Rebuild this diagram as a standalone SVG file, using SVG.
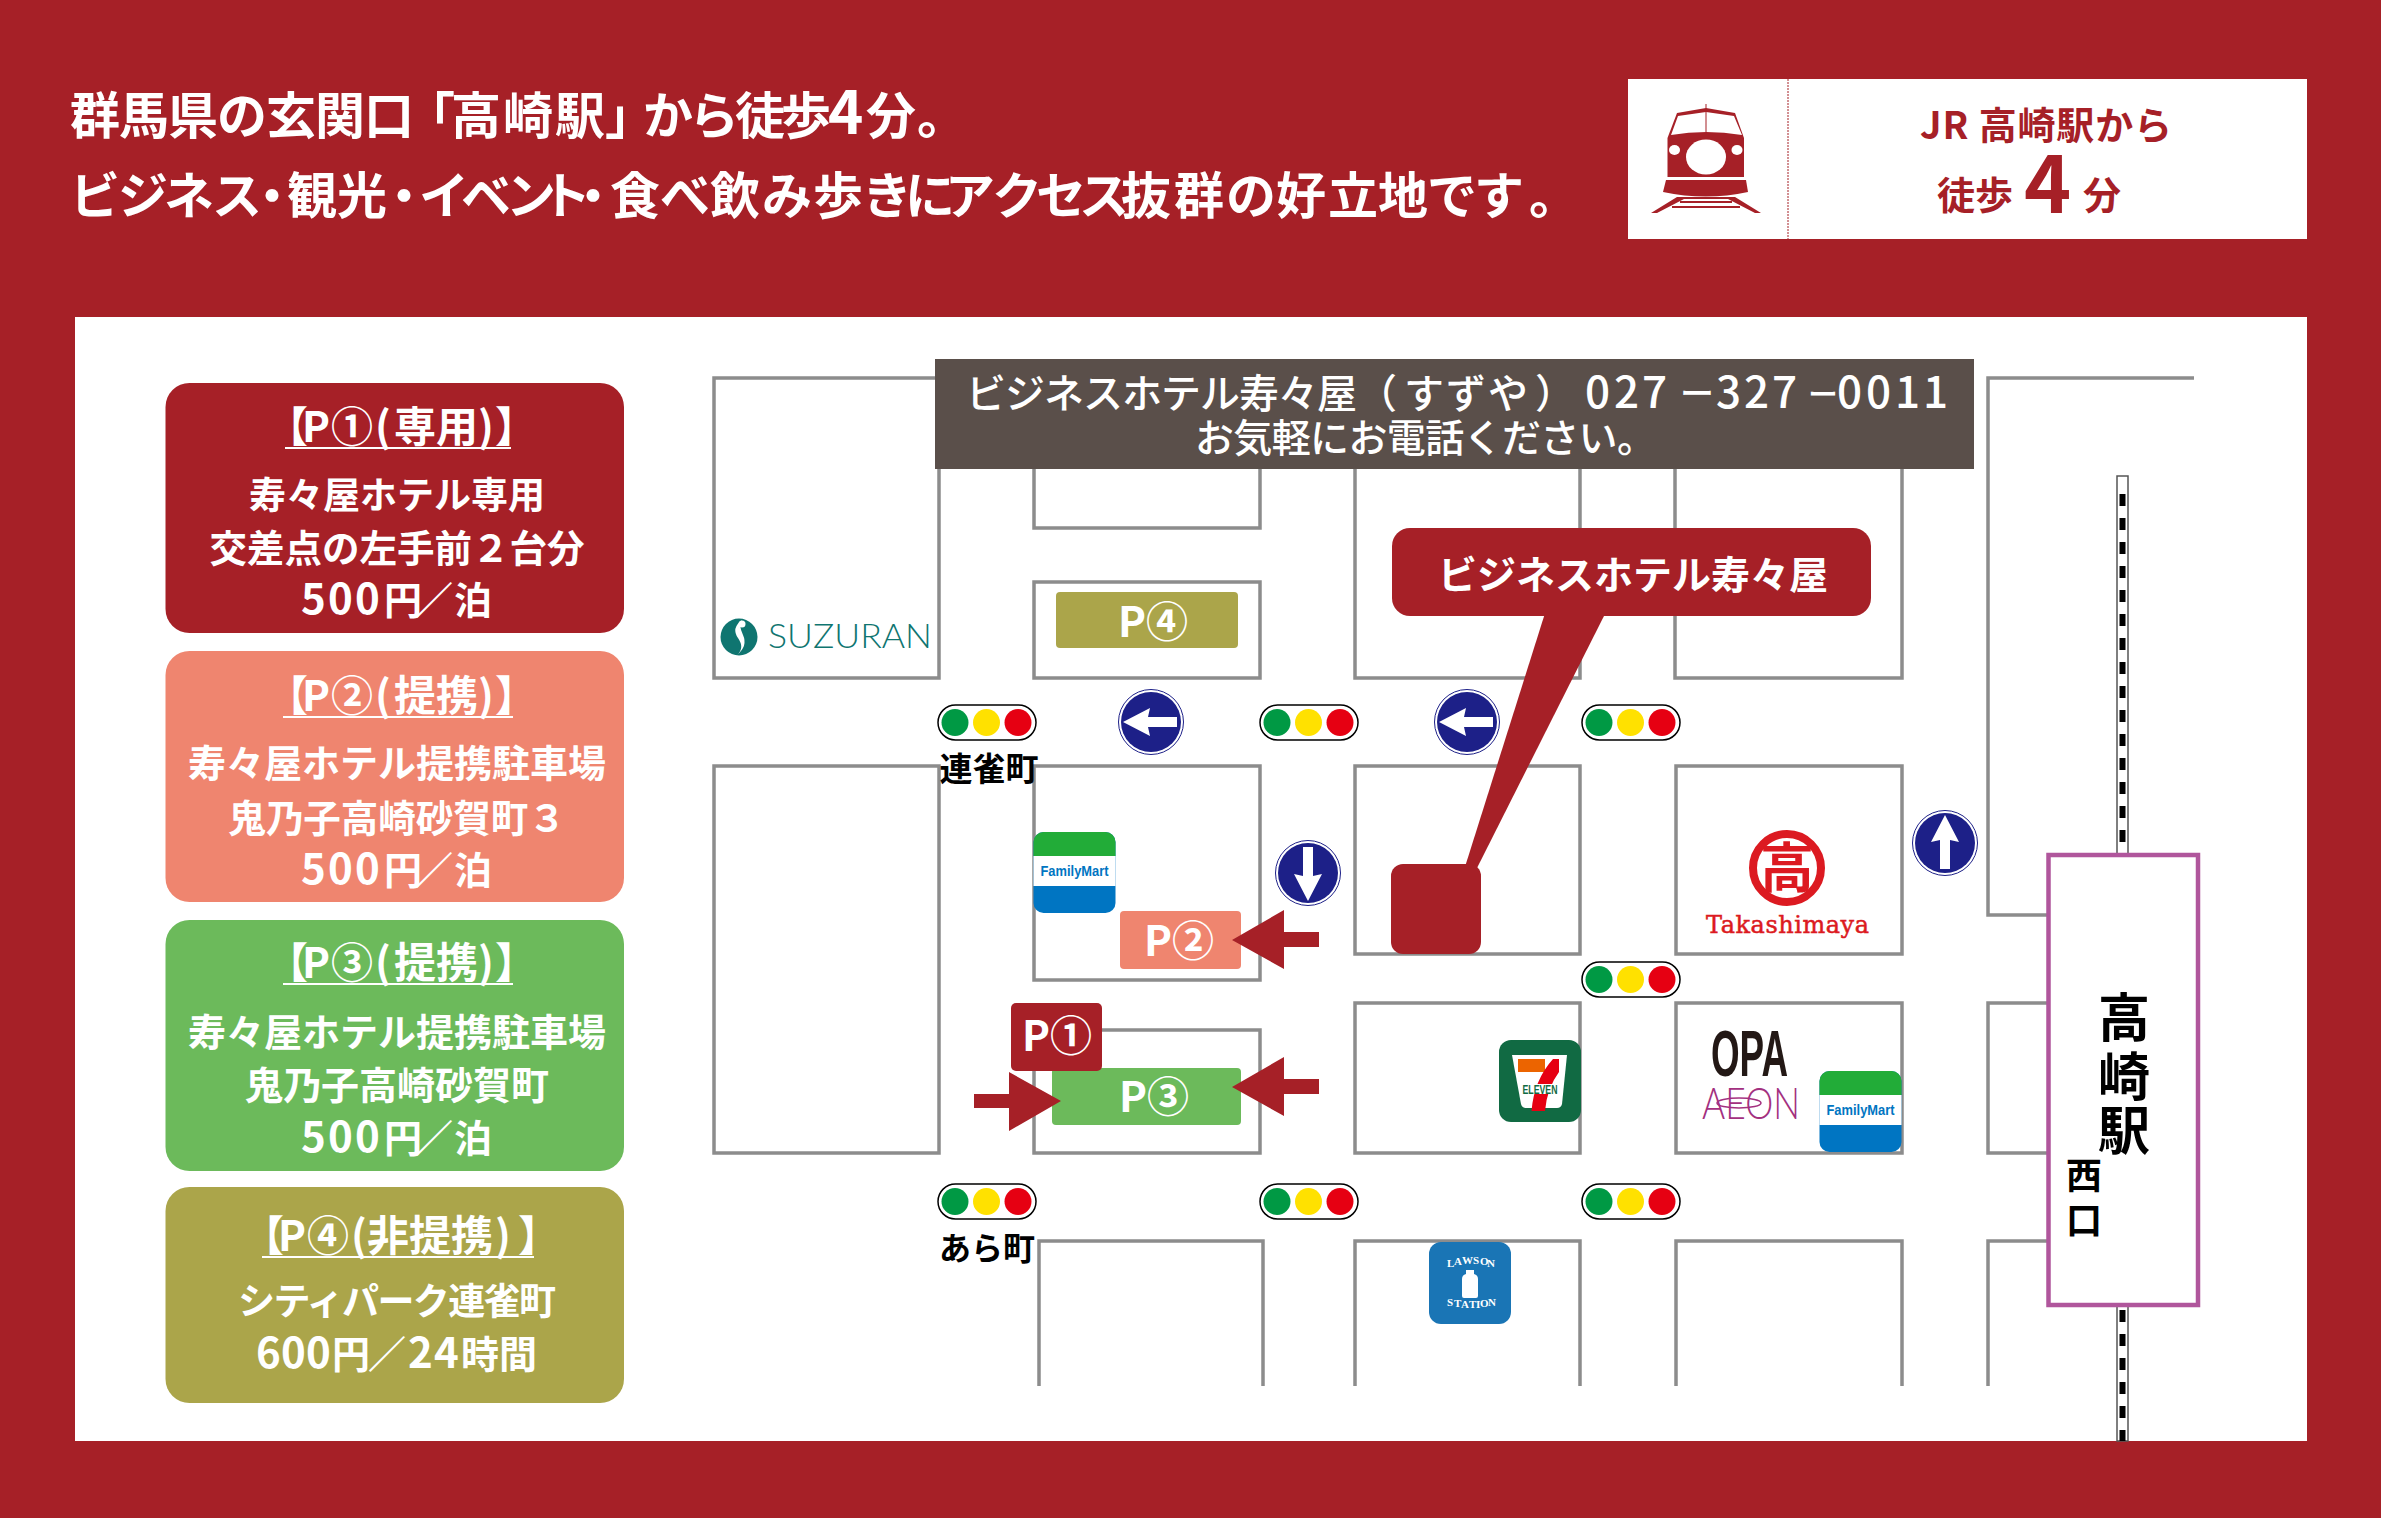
<svg xmlns="http://www.w3.org/2000/svg" width="2381" height="1518" viewBox="0 0 2381 1518">
<style>
text{font-family:"Noto Sans CJK JP","Noto Sans",sans-serif}
.st{fill:none;stroke:#8c8c8c;stroke-width:3.500}
.w{fill:#fff;font-weight:700}
.m{fill:#fff;font-weight:500}
.c{text-anchor:middle}
.leg{font-size:38px}
.ttl{font-size:42px}
.ul{stroke:#fff;stroke-width:2}
.red{fill:#a62027}
.pt{font-size:42px;fill:#fff;text-anchor:middle;font-weight:700}
.blk{fill:#000;font-weight:700}
.sig{fill:#fff;stroke:#000;stroke-width:1.500}
.fm{font-family:"Liberation Sans",sans-serif;font-weight:700;fill:#0075c2;font-size:15px;text-anchor:middle}
.dig{font-size:42px}
.law{font-family:"Liberation Serif",serif;font-size:11px;font-weight:700;fill:#fff}
</style>
<defs>
<g id="lamp"><rect x="1" y="1" width="98" height="35" rx="17.500" class="sig"/><ellipse cx="18" cy="18.500" rx="13.500" ry="13.500" fill="#009944"/><ellipse cx="49.500" cy="18.500" rx="13.500" ry="13.500" fill="#ffe100"/><ellipse cx="81" cy="18.500" rx="13.500" ry="13.500" fill="#e60012"/></g>
<g id="sign"><circle r="32.500" fill="#fff" stroke="#1d2088" stroke-width="1"/><circle r="30" fill="#1d2088"/><path d="M-28 0L-1-14-3-5H26V5H-3L-1 14Z" fill="#fff"/></g>
<g id="fmlogo"><rect width="82" height="81" rx="10" fill="#0075c2"/><path d="M0 24V10A10 10 0 0 1 10 0H72A10 10 0 0 1 82 10V24Z" fill="#22ac38"/><rect y="24" width="82" height="30" fill="#fff"/><text x="41" y="44" class="fm" textLength="68" lengthAdjust="spacingAndGlyphs">FamilyMart</text></g>
</defs>
<rect width="2381" height="1518" class="red"/>
<rect x="75" y="317" width="2232" height="1124" fill="#fff"/>
<g id="header">
<text y="134" class="w" font-size="50" x="70 119 168 217 266 315 364 405 451 503 555 605 643 689 735 781 828 866 917">群馬県の玄関口「高崎駅」から徒歩<tspan font-size="60">4</tspan>分。</text>
<text y="214" class="w" font-size="50" x="70 118 164 212 247 287 337 379 419 461 506 541 568 610 660 710 762 813 862 905 945 992 1036 1079 1121 1174 1226 1276 1328 1378 1427 1474 1529">ビジネス・観光・イベント・食べ飲み歩きにアクセス抜群の好立地です。</text>
</g>
<g id="walk-box">
<rect x="1628" y="79" width="679" height="160" fill="#fff"/>
<line x1="1788" y1="79" x2="1788" y2="239" stroke="#a62027" stroke-width="1" stroke-dasharray="2 1"/>
<g id="train" class="red">
<path d="M1667.500 177V138L1677 113 1706 108 1735 113 1744 138V177Z"/>
<path d="M1671 135L1678 116 1706 112 1734 116 1742 135Q1706 129 1671 135Z" fill="#fff"/>
<path d="M1705.500 104H1706.500V132H1705.500Z"/>
<ellipse cx="1706" cy="157" rx="20" ry="17.500" fill="#fff"/>
<ellipse cx="1674.500" cy="150" rx="5.500" ry="5" fill="#fff"/>
<ellipse cx="1737" cy="150" rx="5.500" ry="5" fill="#fff"/>
<path d="M1666 180H1746L1748 192Q1706 201 1663 192Z"/>
<path d="M1677 197H1735L1761 213H1755L1728 199H1684L1657 213H1651ZM1680 201H1732V203H1680ZM1672 206H1740V208H1672Z"/>
</g>
<text x="2046" y="139" class="c red" font-size="38" font-weight="700" textLength="252">JR 高崎駅から</text>
<text x="1937" y="209" class="red" font-size="38" font-weight="700">徒歩</text>
<text x="2024" y="213" class="red" font-size="80" font-weight="700">4</text>
<text x="2083" y="209" class="red" font-size="38" font-weight="700">分</text>
</g>
<g id="streets">
<path class="st" d="M935 378H714V678H939V469"/>
<path class="st" d="M1034 469V528H1260V469"/>
<rect class="st" x="1034" y="582" width="226" height="96"/>
<path class="st" d="M1355 469V678H1580V469"/>
<path class="st" d="M1675 469V678H1902V469"/>
<path class="st" d="M2194 378H1988V915H2047"/>
<rect class="st" x="714" y="766" width="225" height="387"/>
<rect class="st" x="1034" y="766" width="226" height="214"/>
<rect class="st" x="1355" y="766" width="225" height="188"/>
<rect class="st" x="1676" y="766" width="226" height="188"/>
<rect class="st" x="1034" y="1030" width="226" height="123"/>
<rect class="st" x="1355" y="1003" width="225" height="150"/>
<rect class="st" x="1676" y="1003" width="226" height="150"/>
<path class="st" d="M2047 1003H1988V1153H2047"/>
<path class="st" d="M1039 1386V1241H1263V1386"/>
<path class="st" d="M1355 1386V1241H1580V1386"/>
<path class="st" d="M1676 1386V1241H1902V1386"/>
<path class="st" d="M1988 1386V1241H2047"/>
</g>
<g id="railway">
<rect x="2117" y="476" width="11" height="965" fill="#fff" stroke="#555" stroke-width="1.500"/>
<line x1="2122.500" y1="482" x2="2122.500" y2="1441" stroke="#000" stroke-width="6" stroke-dasharray="12 12" stroke-dashoffset="12"/>
</g>
<g id="phone-banner">
<rect x="935" y="359" width="1039" height="110" fill="#5a4f4a"/>
<text y="408" class="m" font-size="40" x="966 1005 1044 1083 1122 1161 1200 1239 1278 1317 1357 1404 1446 1488 1535 1585 1614 1642 1680 1716 1744 1772 1808 1837 1866 1895 1923">ビジネスホテル寿々屋（すずや）<tspan font-size="44">027</tspan><tspan font-size="34" dy="-2">ー</tspan><tspan font-size="44" dy="2">327</tspan><tspan font-size="30" dy="-3">ー</tspan><tspan font-size="44" dy="3">0011</tspan></text>
<text x="1195" y="452" class="m" font-size="39" textLength="461">お気軽にお電話ください。</text>
</g>
<g id="legend-p1">
<rect x="165.500" y="383" width="458.500" height="250" rx="24" class="red"/>
<text y="442" class="w ttl" x="266 302 331 375 394 436 478 495">【P①(専用)】</text>
<line x1="285" y1="448" x2="511" y2="448" class="ul"/>
<text x="397" y="509" class="w c" font-size="37">寿々屋ホテル専用</text>
<text x="397" y="562" class="w c" font-size="37.500">交差点の左手前２台分</text>
<text y="614" class="w leg" x="301 328 355 384 415 454"><tspan class="dig">500</tspan>円／泊</text>
</g>
<g id="legend-p2">
<rect x="165.500" y="651" width="458.500" height="251" rx="24" fill="#ef856f"/>
<text y="711" class="w ttl" x="266 302 331 375 394 436 478 495">【P②(提携)】</text>
<line x1="283" y1="717" x2="513" y2="717" class="ul"/>
<text x="397" y="777" class="w c leg">寿々屋ホテル提携駐車場</text>
<text x="397" y="832" class="w c" font-size="37.500">鬼乃子高崎砂賀町３</text>
<text y="884" class="w leg" x="301 328 355 384 415 454"><tspan class="dig">500</tspan>円／泊</text>
</g>
<g id="legend-p3">
<rect x="165.500" y="920" width="458.500" height="251" rx="24" fill="#6cba5b"/>
<text y="978" class="w ttl" x="266 302 331 375 394 436 478 495">【P③(提携)】</text>
<line x1="283" y1="984" x2="513" y2="984" class="ul"/>
<text x="397" y="1046" class="w c leg">寿々屋ホテル提携駐車場</text>
<text x="397" y="1099" class="w c leg">鬼乃子高崎砂賀町</text>
<text y="1152" class="w leg" x="301 328 355 384 415 454"><tspan class="dig">500</tspan>円／泊</text>
</g>
<g id="legend-p4">
<rect x="165.500" y="1187" width="458.500" height="216" rx="24" fill="#aba54a"/>
<text y="1251" class="w ttl" x="242 278 307 351 367 409 451 495 518">【P④(非提携)】</text>
<line x1="262" y1="1257" x2="534" y2="1257" class="ul"/>
<text x="397" y="1315" class="w c" font-size="37" textLength="318">シティパーク連雀町</text>
<text y="1368" class="w leg" x="256 281 306 332 368 408 434 461 499"><tspan class="dig">600</tspan>円／<tspan class="dig">24</tspan>時間</text>
</g>
<g id="hotel-callout">
<path class="red" d="M1546 610L1464 870H1476L1607 610Z"/>
<rect x="1392" y="528" width="479" height="88" rx="18" class="red"/>
<rect x="1391" y="864" width="90" height="90" rx="12" class="red"/>
<text x="1633" y="589" class="w c" font-size="39">ビジネスホテル寿々屋</text>
</g>
<g id="lights">
<use href="#lamp" x="937" y="704"/><use href="#lamp" x="1259" y="704"/><use href="#lamp" x="1581" y="704"/>
<use href="#lamp" x="1581" y="961"/>
<use href="#lamp" x="937" y="1183"/><use href="#lamp" x="1259" y="1183"/><use href="#lamp" x="1581" y="1183"/>
</g>
<g id="signs">
<use href="#sign" transform="translate(1151 722)"/>
<use href="#sign" transform="translate(1467 722)"/>
<use href="#sign" transform="translate(1308 873) rotate(-90)"/>
<use href="#sign" transform="translate(1945 843) rotate(90)"/>
</g>
<g id="place-labels">
<text x="989" y="781" class="blk c" font-size="33">連雀町</text>
<text x="987" y="1260" class="blk c" font-size="32">あら町</text>
</g>
<g id="parking-p2"><rect x="1120" y="911" width="121" height="58" rx="4" fill="#ef856f"/><text x="1179" y="956" class="pt">P②</text></g>
<g id="parking-p3"><rect x="1052" y="1068" width="189" height="57" rx="4" fill="#6cba5b"/><text x="1154" y="1112" class="pt">P③</text></g>
<g id="parking-p1"><rect x="1011" y="1003" width="91" height="68" rx="5" class="red"/><text x="1057" y="1051" class="pt">P①</text></g>
<g id="parking-p4"><rect x="1056" y="592" width="182" height="56" rx="4" fill="#aba54a"/><text x="1153" y="637" class="pt">P④</text></g>
<g id="connectors" class="red">
<path d="M1232 940L1284 910V932H1319V947H1284V969Z"/>
<path d="M1232 1087L1284 1057V1079H1319V1094H1284V1116Z"/>
<path d="M1061 1101L1009 1072V1094H974V1108H1009V1131Z"/>
</g>
<g id="suzuran">
<circle cx="739" cy="637" r="18.500" fill="#0f7570"/>
<path d="M742 620Q731 628 738 638T737 655Q748 646 743 635T742 620Z" fill="#fff"/>
<circle cx="742" cy="624" r="3.500" fill="#fff"/>
<text x="768" y="648" font-size="33" font-weight="300" fill="#0f7570" textLength="164" lengthAdjust="spacingAndGlyphs" style="font-family:Lato,'Liberation Sans',sans-serif">SUZURAN</text>
</g>
<use id="familymart-1" href="#fmlogo" x="1033.500" y="832"/>
<use id="familymart-2" href="#fmlogo" x="1819.500" y="1071"/>
<g id="takashimaya">
<circle cx="1787" cy="868" r="34" fill="none" stroke="#dc1a21" stroke-width="8"/>
<text x="1787" y="888" class="c" font-size="54" font-weight="700" fill="#dc1a21">高</text>
<text x="1706" y="933" font-size="24" fill="#dc1a21" stroke="#dc1a21" stroke-width=".5" textLength="163" style="font-family:'DejaVu Serif',serif">Takashimaya</text>
</g>
<g id="seven-eleven">
<rect x="1499" y="1040" width="82" height="82" rx="12" fill="#116a43"/>
<path d="M1512 1055H1567L1562 1104Q1561 1108 1557 1108H1526Q1522 1108 1521 1104Z" fill="#fff"/>
<rect x="1518" y="1059" width="27" height="13" fill="#ec6400"/>
<path d="M1559 1059V1072Q1547 1088 1545 1111H1531.500Q1534 1080 1553 1059Z" fill="#e60012"/>
<rect x="1521" y="1084" width="38" height="10" fill="#fff"/>
<text x="1540" y="1093.500" class="c" font-size="12" font-weight="700" fill="#116a43" textLength="35" lengthAdjust="spacingAndGlyphs" style="font-family:'Liberation Sans',sans-serif">ELEVEN</text>
</g>
<g id="opa-aeon">
<text x="1711" y="1076" font-size="64" font-weight="700" fill="#231815" textLength="77" lengthAdjust="spacingAndGlyphs" style="font-family:'Liberation Sans',sans-serif">OPA</text>
<text x="1702" y="1119" font-size="44" font-weight="300" fill="#a3307f" textLength="98" lengthAdjust="spacingAndGlyphs" style="font-family:Lato,'Liberation Sans',sans-serif">AEON</text>
<ellipse cx="1739" cy="1103" rx="22" ry="5" fill="none" stroke="#a3307f" stroke-width="1.500"/>
</g>
<g id="lawson">
<rect x="1429" y="1242" width="82" height="82" rx="12" fill="#1a75b5"/>
<text class="law" x="1447 1454 1462 1473 1480 1487" y="1267 1265 1264 1264 1265 1267">LAWSON</text>
<text class="law" x="1447 1454 1461 1469 1476 1480 1488" y="1306 1307 1308 1308 1308 1307 1306">STATION</text>
<path d="M1462 1279Q1462 1275 1466 1274V1270H1474V1274Q1478 1275 1478 1279V1296Q1478 1298 1476 1298H1464Q1462 1298 1462 1296Z" fill="#fff"/>
</g>
<g id="station">
<rect x="2048.500" y="855" width="149.500" height="450" fill="#fff" stroke="#b0569c" stroke-width="4.500"/>
<text x="2124" y="1037" class="blk c" font-size="52">高</text>
<text x="2124" y="1096" class="blk c" font-size="52">崎</text>
<text x="2124" y="1150" class="blk c" font-size="52">駅</text>
<text x="2084" y="1189" class="blk c" font-size="36">西</text>
<text x="2084" y="1234" class="blk c" font-size="36">口</text>
</g>
</svg>
